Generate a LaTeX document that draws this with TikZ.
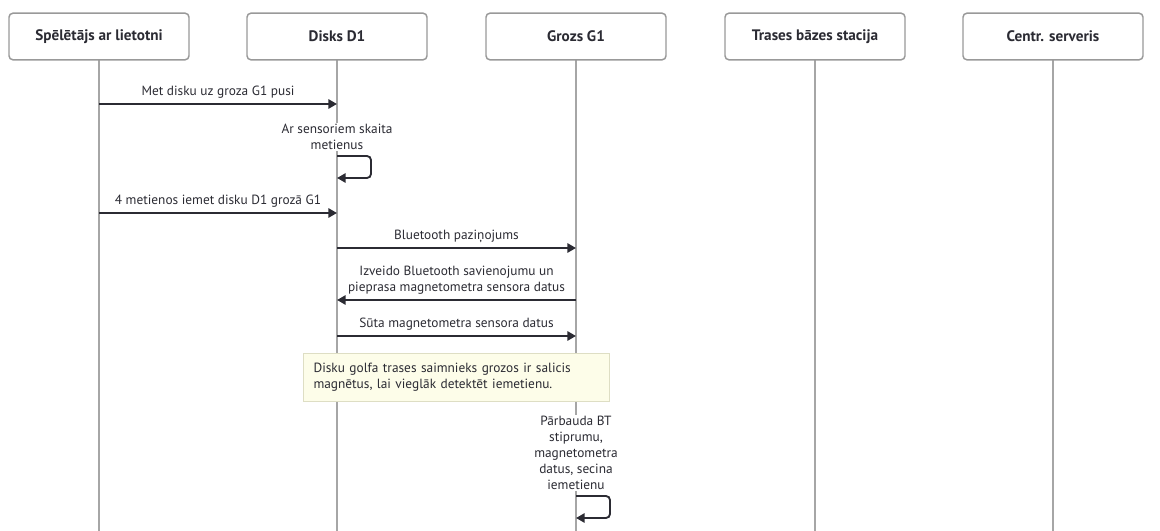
\documentclass[tikz,border=0pt]{standalone}
\usepackage{fontspec}
\setmainfont{PT Sans}
\usetikzlibrary{arrows.meta}
\definecolor{txtcol}{HTML}{2B2B33}
\definecolor{actline}{HTML}{999999}
\definecolor{lifecol}{HTML}{A6A6A6}
\definecolor{notefill}{HTML}{FDFDE9}
\definecolor{noteline}{HTML}{DEDEC4}
\tikzset{
  actor/.style={draw=actline, line width=1.1pt, rounded corners=3pt, fill=white,
    minimum width=135pt, minimum height=35pt, font=\bfseries\fontsize{11.4}{13}\selectfont, text=txtcol},
  lifeline/.style={draw=lifecol, line width=1.1pt},
  msg/.style={draw=txtcol, line width=1.4pt, -{Triangle[length=6.5pt,width=7pt]}},
  msglabel/.style={font=\fontsize{10}{12}\selectfont, text=txtcol, align=center},
  selflabel/.style={msglabel, fill=white, inner sep=1pt},
  note/.style={draw=noteline, line width=0.8pt, fill=notefill, anchor=north west,
    minimum width=229.5pt, minimum height=36pt, text width=214.5pt, inner xsep=7.5pt,
    align=left, font=\fontsize{10}{12}\selectfont, text=txtcol}
}
\begin{document}
\begin{tikzpicture}[x=0.75pt,y=-0.75pt]
\useasboundingbox (0,0) rectangle (1160,531);
% dalibnieki
\coordinate (sp) at (99,36.5);
\coordinate (dk) at (337,36.5);
\coordinate (gz) at (576,36.5);
\coordinate (bs) at (815,36.5);
\coordinate (cs) at (1053,36.5);
\foreach \a in {sp,dk,gz,bs,cs}
  \draw[lifeline] (\a) -- (\a |- 0,531);
\node[actor] (spbox) at (sp) {Spēlētājs ar lietotni};
\node[actor] (dkbox) at (dk) {Disks D1};
\node[actor] (gzbox) at (gz) {Grozs G1};
\node[actor] (bsbox) at (bs) {Trases bāzes stacija};
\node[actor] (csbox) at (cs) {Centr. serveris};
% zinojumi
\draw[msg] (sp |- 0,104) -- node[msglabel, above] {Met disku uz groza G1 pusi} (dk |- 0,104);
\node[selflabel] (l1) at (dk |- 0,137) {Ar sensoriem skaita\\metienus};
\draw[msg, rounded corners=3pt] (dk |- 0,156) -- ++(34,0) -- ++(0,22) -- (dk |- 0,178);
\draw[msg] (sp |- 0,213) -- node[msglabel, above] {4 metienos iemet disku D1 grozā G1} (dk |- 0,213);
\draw[msg] (dk |- 0,248) -- node[msglabel, above] {Bluetooth paziņojums} (gz |- 0,248);
\draw[msg] (gz |- 0,300) -- node[msglabel, above] {Izveido Bluetooth savienojumu un\\pieprasa magnetometra sensora datus} (dk |- 0,300);
\draw[msg] (dk |- 0,336) -- node[msglabel, above] {Sūta magnetometra sensora datus} (gz |- 0,336);
\node[note] (nt) at (303,353) {Disku golfa trases saimnieks grozos ir salicis\\magnētus, lai vieglāk detektēt iemetienu.};
\node[selflabel] (l2) at (gz |- 0,453) {Pārbauda BT\\stiprumu,\\magnetometra\\datus, secina\\iemetienu};
\draw[msg, rounded corners=3pt] (gz |- 0,496) -- ++(34,0) -- ++(0,22) -- (gz |- 0,518);
\end{tikzpicture}
\end{document}
